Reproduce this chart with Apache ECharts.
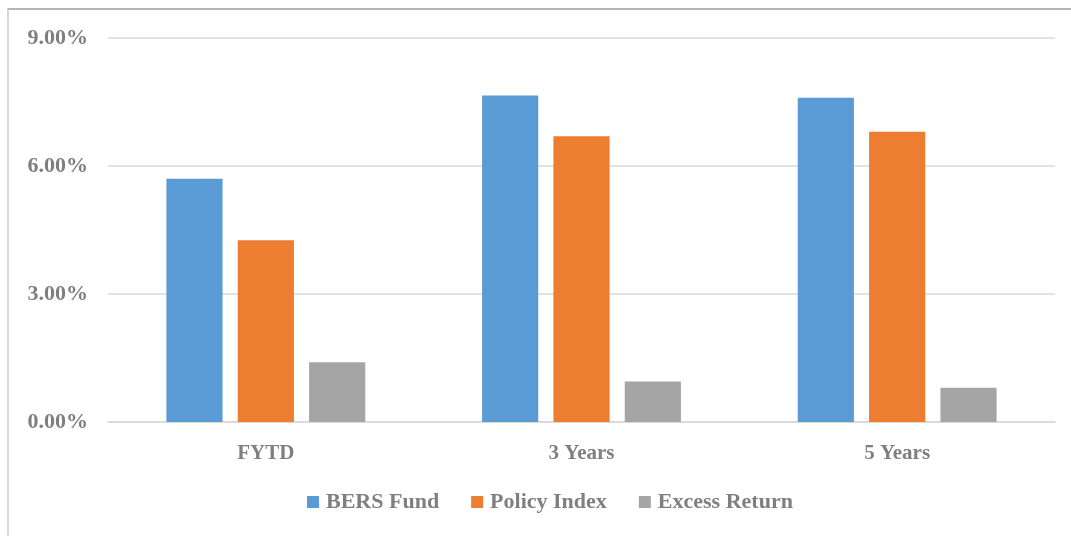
<!DOCTYPE html>
<html>
<head>
<meta charset="utf-8">
<script src="https://cdn.jsdelivr.net/npm/echarts@6/dist/echarts.min.js"></script>
<style>
  html, body { margin: 0; padding: 0; background: #fff; }
  .frame {
    position: absolute;
    left: 7px;
    top: 8px;
    width: 1080px;
    height: 540px;
    border-top: 2px solid #b4b8ac;
    border-left: 2px solid #d6d6d6;
  }
  #chart { position: absolute; left: 0; top: 0; width: 1071px; height: 536px; }
</style>
</head>
<body>
<div class="frame"></div>
<div id="chart"></div>
<script>
const categories = ['FYTD', '3 Years', '5 Years']
const bersFund = [5.70, 7.65, 7.60]
const policyIndex = [4.26, 6.70, 6.80]
const excessReturn = [1.40, 0.95, 0.80]
const yTicks = [0, 3, 6, 9]

const textColor = '#7f7f7f'
const font = '"Liberation Serif", "Times New Roman", serif'

const charts = echarts.init(document.getElementById('chart'))
const option = {
  animation: false,
  textStyle: { fontFamily: font },
  grid: {
    top: 38,
    bottom: 114,
    left: 108,
    right: 16
  },
  legend: {
    bottom: 18,
    left: 302,
    itemWidth: 12,
    itemHeight: 12,
    itemGap: 32,
    icon: 'rect',
    textStyle: {
      color: textColor,
      fontSize: 22,
      fontWeight: 'bold',
      fontFamily: font,
      padding: [2, 0, 0, 2]
    },
    data: ['BERS Fund', 'Policy Index', 'Excess Return']
  },
  xAxis: {
    type: 'category',
    data: categories,
    axisTick: { show: false },
    axisLine: { lineStyle: { color: '#d9d9d9', width: 1.5 } },
    axisLabel: {
      color: textColor,
      fontSize: 21,
      fontWeight: 'bold',
      fontFamily: font,
      margin: 21
    }
  },
  yAxis: {
    type: 'value',
    min: yTicks[0],
    max: yTicks[yTicks.length - 1],
    interval: yTicks[1] - yTicks[0],
    axisLine: { show: false },
    axisTick: { show: false },
    axisLabel: {
      color: textColor,
      fontSize: 22,
      fontWeight: 'bold',
      fontFamily: font,
      margin: 20,
      formatter: v => v.toFixed(2) + '%'
    },
    splitLine: { lineStyle: { color: '#d9d9d9', width: 1.5 } }
  },
  series: [
    {
      name: 'BERS Fund',
      type: 'bar',
      data: bersFund,
      barGap: '27%',
      barCategoryGap: '37%',
      itemStyle: { color: '#5b9bd5' }
    },
    {
      name: 'Policy Index',
      type: 'bar',
      data: policyIndex,
      itemStyle: { color: '#ed7d31' }
    },
    {
      name: 'Excess Return',
      type: 'bar',
      data: excessReturn,
      itemStyle: { color: '#a5a5a5' }
    }
  ]
}
charts.setOption(option)
</script>
</body>
</html>
